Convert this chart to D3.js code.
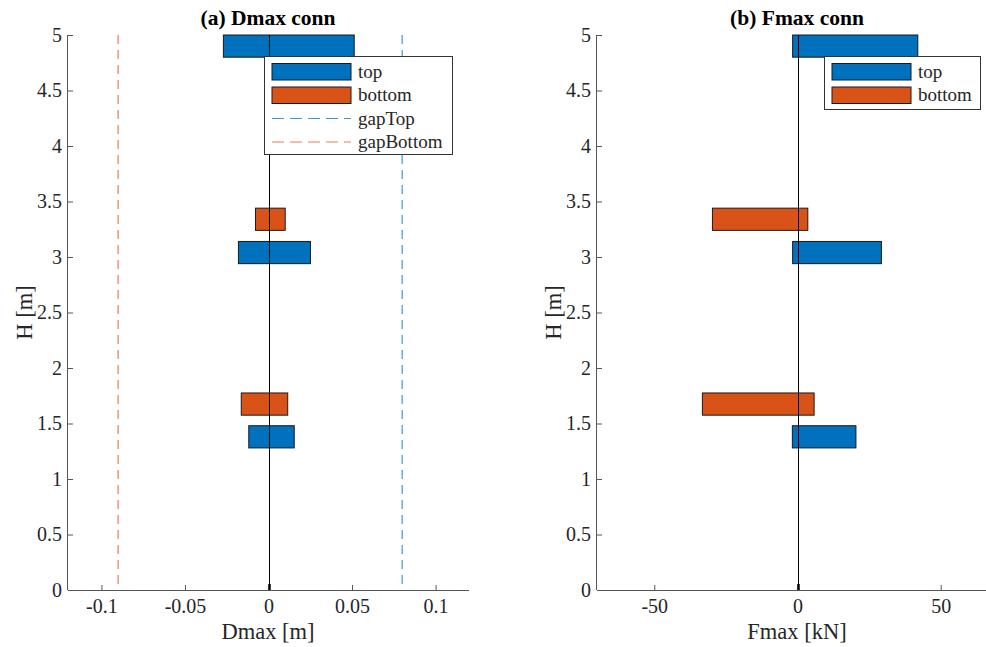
<!DOCTYPE html>
<html>
<head>
<meta charset="utf-8">
<script src="https://cdn.jsdelivr.net/npm/d3@7"></script>
<style>
  html, body { margin: 0; padding: 0; background: #fff; }
  svg { display: block; }
  svg text { font-family: "Liberation Serif", "Times New Roman", Times, "DejaVu Serif", serif !important; fill: #262626; }
</style>
</head>
<body>
<svg id="chart" width="986" height="647"></svg>
<script>
// ---------------- data ----------------
const yTicks = [0, 0.5, 1, 1.5, 2, 2.5, 3, 3.5, 4, 4.5, 5];
const dTicks = [-0.1, -0.05, 0, 0.05, 0.1];
const fTicks = [-50, 0, 50];

// bar centre heights [m]
const topH = [4.9, 3.04, 1.38];
const bottomH = [3.34, 1.675];
const barHalf = 0.1;

// Dmax [m]: [min, max] per bar
const dTopMin = [-0.027, -0.018, -0.0118];
const dTopMax = [0.0513, 0.0251, 0.0154];
const dBotMin = [-0.0078, -0.0163];
const dBotMax = [0.0100, 0.0115];
const gapTop = 0.08;
const gapBottom = -0.09;

// Fmax [kN]: [min, max] per bar
const fTopMin = [-1.7, -1.7, -1.8];
const fTopMax = [42.0, 29.3, 20.4];
const fBotMin = [-29.7, -33.2];
const fBotMax = [3.6, 5.8];

const BLUE = "#0072BD", ORANGE = "#D95319", AX = "#262626";
const FONT = '"Liberation Serif", "Times New Roman", Times, "DejaVu Serif", serif';

const svg = d3.select("#chart");

function panel(opts) {
  const x = d3.scaleLinear().domain(opts.xDomain).range(opts.xRange);
  const y = d3.scaleLinear().domain([0, 5]).range([590, 35]);
  const g = svg.append("g");

  // y axis
  const ya = d3.axisLeft(y).tickValues(yTicks).tickSize(-5).tickPadding(6)
    .tickFormat(d => String(d));
  const yg = g.append("g").attr("transform", `translate(${opts.xRange[0]},0)`).call(ya);
  // x axis
  const xa = d3.axisBottom(x).tickValues(opts.xTicks).tickSize(-5).tickPadding(9)
    .tickFormat(d => String(d));
  const xg = g.append("g").attr("transform", `translate(0,590)`).call(xa);
  [yg, xg].forEach(a => {
    a.attr("font-family", FONT).attr("font-size", 20);
    a.select(".domain").attr("stroke", "#555").attr("stroke-width", 1);
    a.selectAll(".tick line").attr("stroke", "#555");
    a.selectAll(".tick text").attr("font-size", 20).attr("fill", AX);
  });
  yg.select(".domain").attr("d", `M-0.5,${y(5)}V${y(0)}`);
  xg.select(".domain").attr("d", `M${opts.xRange[0]},0.5H${opts.xRange[1]}`);

  // gap lines
  (opts.gaps || []).forEach(gp => {
    g.append("line")
      .attr("x1", x(gp.v)).attr("x2", x(gp.v))
      .attr("y1", y(5)).attr("y2", y(0))
      .attr("stroke", gp.c).attr("stroke-opacity", 0.75).attr("stroke-width", 1.2)
      .attr("stroke-dasharray", "9,6");
  });

  // bars
  const bars = [];
  topH.forEach((h, i) => bars.push({h, a: opts.topMin[i], b: opts.topMax[i], c: BLUE}));
  bottomH.forEach((h, i) => bars.push({h, a: opts.botMin[i], b: opts.botMax[i], c: ORANGE}));
  g.selectAll("rect.bar").data(bars).enter().append("rect")
    .attr("class", "bar")
    .attr("x", d => x(d.a)).attr("width", d => x(d.b) - x(d.a))
    .attr("y", d => y(d.h + barHalf)).attr("height", d => y(d.h - barHalf) - y(d.h + barHalf))
    .attr("fill", d => d.c).attr("stroke", "#1a1a1a").attr("stroke-width", 1);

  // zero line
  g.append("line")
    .attr("x1", Math.round(x(0)) + 0.5).attr("x2", Math.round(x(0)) + 0.5)
    .attr("y1", y(5)).attr("y2", y(0))
    .attr("stroke", "#000").attr("stroke-width", 1);
  g.append("line")
    .attr("x1", Math.round(x(0)) + 0.5).attr("x2", Math.round(x(0)) + 0.5)
    .attr("y1", y(0)).attr("y2", y(0) - 6)
    .attr("stroke", "#000").attr("stroke-width", 2.5);

  // titles / labels
  const cx = opts.titleX;
  g.append("text").attr("x", cx).attr("y", 25).attr("text-anchor", "middle")
    .attr("font-family", FONT).attr("font-size", 21.5).attr("font-weight", "bold")
    .style("fill", "#000").text(opts.title);
  g.append("text").attr("x", cx).attr("y", 639).attr("text-anchor", "middle")
    .attr("font-family", FONT).attr("font-size", 22.5).text(opts.xLabel);
  g.append("text").attr("transform", `translate(${opts.yLabelX},${(y(0) + y(5)) / 2}) rotate(-90)`)
    .attr("text-anchor", "middle").attr("font-family", FONT).attr("font-size", 22.5).text("H [m]");

  // legend
  const L = opts.legend;
  const lg = g.append("g");
  lg.append("rect").attr("x", L.x0 + 0.5).attr("y", L.y0 + 0.5)
    .attr("width", L.x1 - L.x0).attr("height", L.y1 - L.y0)
    .attr("fill", "#fff").attr("stroke", "#333").attr("stroke-width", 1);
  L.items.forEach((it, i) => {
    const cy = L.y0 + 15.5 + i * 23.5;
    if (it.type === "rect") {
      lg.append("rect").attr("x", L.x0 + 8).attr("y", cy - 8).attr("width", 79).attr("height", 16.5)
        .attr("fill", it.c).attr("stroke", "#1a1a1a").attr("stroke-width", 1);
    } else {
      lg.append("line").attr("x1", L.x0 + 8).attr("x2", L.x0 + 87).attr("y1", cy).attr("y2", cy)
        .attr("stroke", it.c).attr("stroke-opacity", 0.75).attr("stroke-width", 1.2)
        .attr("stroke-dasharray", "12,6");
    }
    lg.append("text").attr("x", L.x0 + 94).attr("y", cy + 6)
      .attr("font-family", FONT).attr("font-size", 19).text(it.label);
  });
}

panel({
  xDomain: [-0.12, 0.12], xRange: [68, 469], xTicks: dTicks,
  topMin: dTopMin, topMax: dTopMax, botMin: dBotMin, botMax: dBotMax,
  gaps: [{v: gapTop, c: BLUE}, {v: gapBottom, c: ORANGE}],
  title: "(a) Dmax conn", xLabel: "Dmax [m]", titleX: 268, yLabelX: 31.5,
  legend: {x0: 264, y0: 56, x1: 452, y1: 154, items: [
    {type: "rect", c: BLUE, label: "top"},
    {type: "rect", c: ORANGE, label: "bottom"},
    {type: "line", c: BLUE, label: "gapTop"},
    {type: "line", c: ORANGE, label: "gapBottom"}]}
});

panel({
  xDomain: [-70, 70], xRange: [597, 998], xTicks: fTicks,
  topMin: fTopMin, topMax: fTopMax, botMin: fBotMin, botMax: fBotMax,
  gaps: [],
  title: "(b) Fmax conn", xLabel: "Fmax [kN]", titleX: 797, yLabelX: 560.5,
  legend: {x0: 824, y0: 56, x1: 980, y1: 109, items: [
    {type: "rect", c: BLUE, label: "top"},
    {type: "rect", c: ORANGE, label: "bottom"}]}
});
</script>
</body>
</html>
